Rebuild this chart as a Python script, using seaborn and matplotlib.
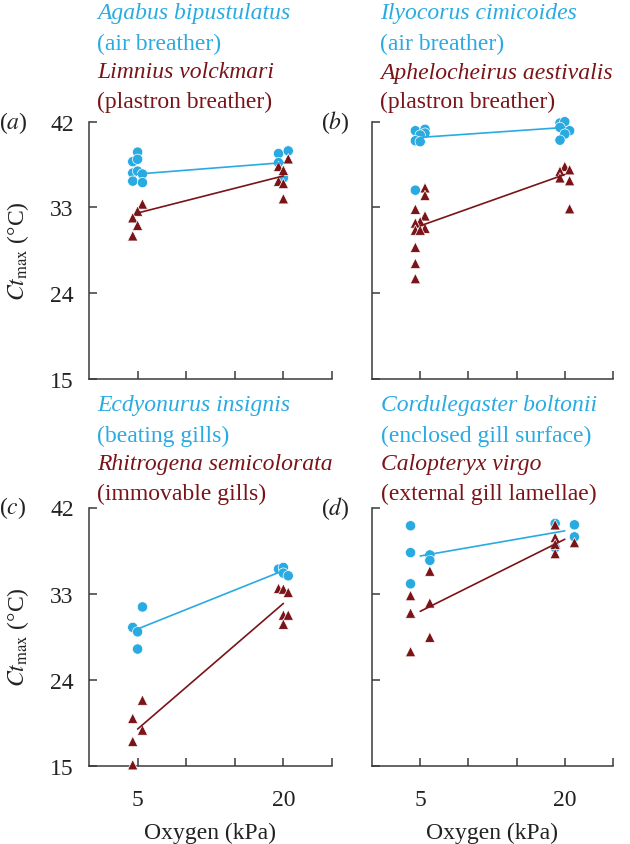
#!/usr/bin/env python3
"""
CTmax of paired aquatic insects at 5 and 20 kPa oxygen (four panels)
"""

import numpy as np
import pandas as pd
import matplotlib
matplotlib.use("Agg")
import matplotlib.pyplot as plt
import seaborn as sns

BLUE = "#29abe2"
RED = "#7a1418"
W, H = 630, 845

# ---- data ----------------------------------------------------------------
# (x = oxygen level with the small horizontal jitter of the original)
a_circ_x = [5.0, 4.5, 5.0, 4.5, 5.0, 5.5, 4.5, 5.5, 19.5, 20.5, 19.5, 20.0]
a_circ_y = [38.8, 37.8, 38.05, 36.6, 36.8, 36.5, 35.75, 35.6, 38.65, 38.93, 37.7, 36.1]
a_tri_x = [5.5, 5.0, 4.5, 5.0, 4.5, 20.5, 19.5, 20.0, 19.5, 20.0, 20.0]
a_tri_y = [33.35, 32.6, 31.9, 31.1, 30.0, 38.1, 37.3, 36.9, 35.75, 35.5, 33.9]
a_fit_circ = [36.5, 37.7]
a_fit_tri = [32.4, 36.3]

b_circ_x = [4.5, 5.5, 5.5, 5.0, 4.5, 5.0, 4.5, 19.5, 20.0, 19.5, 20.5, 20.0, 19.5]
b_circ_y = [41.05, 41.2, 40.8, 40.6, 40.0, 39.9, 34.8, 41.86, 42.0, 41.4, 41.05, 40.7, 40.06]
b_tri_x = [5.5, 5.5, 4.5, 5.5, 5.0, 4.5, 5.5, 4.5, 5.0, 4.5, 4.5, 4.5,
           20.0, 20.5, 19.5, 19.5, 20.5, 20.5]
b_tri_y = [35.05, 34.25, 32.8, 32.1, 31.5, 31.35, 30.8, 30.6, 30.6, 28.8, 27.1, 25.5,
           37.3, 36.95, 36.8, 36.1, 35.8, 32.85]
b_fit_circ = [40.35, 41.4]
b_fit_tri = [31.05, 36.45]

c_circ_x = [5.5, 4.5, 5.0, 5.0, 19.5, 20.0, 20.0, 20.5]
c_circ_y = [31.6, 29.46, 29.0, 27.2, 35.56, 35.73, 35.14, 34.86]
c_tri_x = [5.5, 4.5, 5.5, 4.5, 4.5, 19.5, 20.0, 20.5, 20.0, 20.5, 20.0]
c_tri_y = [21.86, 19.95, 18.73, 17.54, 15.1, 33.54, 33.47, 33.12, 30.75, 30.75, 29.8]
c_fit_circ = [29.3, 35.4]
c_fit_tri = [18.83, 31.97]

d_circ_x = [4.0, 4.0, 6.0, 6.0, 4.0, 19.0, 21.0, 19.0, 21.0]
d_circ_y = [40.09, 37.28, 37.04, 36.47, 34.02, 40.33, 40.19, 37.81, 38.93]
d_tri_x = [4.0, 6.0, 6.0, 4.0, 6.0, 4.0, 19.0, 19.0, 19.0, 19.0, 21.0]
d_tri_y = [32.79, 35.35, 32.02, 30.96, 28.44, 26.93, 40.19, 38.86, 38.16, 37.18, 38.33]
d_fit_circ = [36.93, 39.56]
d_fit_tri = [31.14, 38.68]

fit_x = [5, 20]
y_ticks = [15, 24, 33, 42]
x_ticks = [5, 10, 15, 20, 25]
x_ticklabels = ["5", "", "", "20", ""]

titles = {
    "a": ["Agabus bipustulatus", "(air breather)", "Limnius volckmari", "(plastron breather)"],
    "b": ["Ilyocorus cimicoides", "(air breather)", "Aphelocheirus aestivalis", "(plastron breather)"],
    "c": ["Ecdyonurus insignis", "(beating gills)", "Rhitrogena semicolorata", "(immovable gills)"],
    "d": ["Cordulegaster boltonii", "(enclosed gill surface)", "Calopteryx virgo", "(external gill lamellae)"],
}

panels = {
    "a": (a_circ_x, a_circ_y, a_tri_x, a_tri_y, a_fit_circ, a_fit_tri),
    "b": (b_circ_x, b_circ_y, b_tri_x, b_tri_y, b_fit_circ, b_fit_tri),
    "c": (c_circ_x, c_circ_y, c_tri_x, c_tri_y, c_fit_circ, c_fit_tri),
    "d": (d_circ_x, d_circ_y, d_tri_x, d_tri_y, d_fit_circ, d_fit_tri),
}

# axes boxes in pixels: left, top, right, bottom
boxes = {
    "a": (89, 122.7, 332, 379.5),
    "b": (372, 122.7, 613, 379.5),
    "c": (89, 508.5, 332, 766.7),
    "d": (372, 508.5, 613, 766.7),
}
title_y = {"a": [14, 44, 73, 102], "b": [14, 44, 73, 102],
           "c": [406, 436, 465, 494], "d": [406, 436, 465, 494]}
title_x = {"a": 97, "b": 380, "c": 97, "d": 381}


def draw_panel(ax, key):
    cx, cy, tx, ty, fc, ft = panels[key]
    df = pd.DataFrame({
        "oxygen": cx + tx,
        "ctmax": cy + ty,
        "kind": ["circ"] * len(cx) + ["tri"] * len(tx),
    })
    sns.scatterplot(data=df, x="oxygen", y="ctmax", hue="kind", style="kind",
                    palette={"circ": BLUE, "tri": RED},
                    markers={"circ": "o", "tri": "^"},
                    s=55, edgecolor="white", linewidth=0.5,
                    legend=False, clip_on=False, zorder=3, ax=ax)
    sns.lineplot(x=fit_x, y=fc, color=BLUE, lw=1.2, ax=ax, zorder=4)
    sns.lineplot(x=fit_x, y=ft, color=RED, lw=1.2, ax=ax, zorder=4)

    ax.set_xlim(0, 25)
    ax.set_ylim(15, 42)
    ax.set_yticks(y_ticks)
    ax.set_xticks(x_ticks)
    ax.set_xlabel("")
    ax.set_ylabel("")
    for side in ["top", "right"]:
        ax.spines[side].set_visible(False)
    for side in ["left", "bottom"]:
        ax.spines[side].set_color("#3a3a3a")
        ax.spines[side].set_linewidth(1.1)
    # seaborn "white" style hides ticks, turn them back on (pointing inward)
    ax.tick_params(bottom=True, left=True, direction="in", length=5.5, width=1.1,
                   color="#3a3a3a", labelsize=17, labelcolor="#222222")
    ax.tick_params(axis="y", pad=11)
    ax.tick_params(axis="x", pad=17)

    if key in ("a", "c"):
        ax.set_yticklabels([str(t) for t in y_ticks])
        ax.set_ylabel(r"$Ct_{\mathrm{max}}$ (°C)", fontsize=17, labelpad=14, color="#222222")
    else:
        ax.set_yticklabels([])
    if key in ("c", "d"):
        ax.set_xticklabels(x_ticklabels)
        ax.set_xlabel("Oxygen (kPa)", fontsize=17, labelpad=8, color="#222222")
    else:
        ax.set_xticklabels([])


def main():
    sns.set_theme(style="white")
    plt.rcParams["font.family"] = ["Liberation Serif", "DejaVu Serif"]
    plt.rcParams["mathtext.fontset"] = "stix"

    fig = plt.figure(figsize=(W / 100, H / 100), dpi=100)

    for key in ["a", "b", "c", "d"]:
        l, t, r, b = boxes[key]
        ax = fig.add_axes([l / W, 1 - b / H, (r - l) / W, (b - t) / H])
        draw_panel(ax, key)

        # species names / breathing mode, four lines above each panel
        lines = titles[key]
        colors = [BLUE, BLUE, RED, RED]
        styles = ["italic", "normal", "italic", "normal"]
        for txt, col, st, yy in zip(lines, colors, styles, title_y[key]):
            fig.text(title_x[key] / W, 1 - yy / H, txt, color=col, style=st,
                     fontsize=17, ha="left", va="center")

        # panel letter
        fig.text((l - 76) / W if key in ("a", "c") else (l - 37) / W, 1 - t / H,
                 "(" + r"$\it{" + key + "}$" + ")", fontsize=17,
                 ha="center", va="center", color="#222222")

    fig.savefig("out.png", dpi=100)
    plt.close(fig)


if __name__ == "__main__":
    main()
